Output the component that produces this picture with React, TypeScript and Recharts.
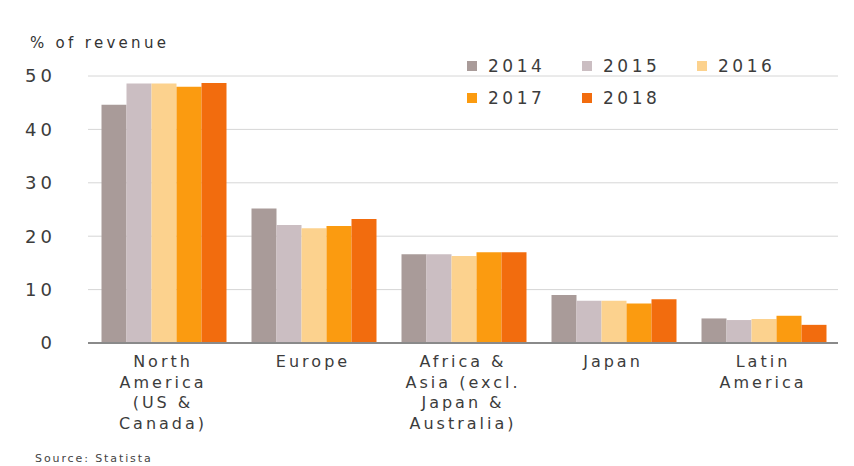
import { BarChart, Bar, XAxis, YAxis, CartesianGrid, Legend } from "recharts";

const regions = [
  "North\nAmerica\n(US &\nCanada)",
  "Europe",
  "Africa &\nAsia (excl.\nJapan &\nAustralia)",
  "Japan",
  "Latin\nAmerica",
];
const years = ["2014", "2015", "2016", "2017", "2018"];
const v2014 = [44.6, 25.2, 16.6, 9.0, 4.6];
const v2015 = [48.6, 22.1, 16.6, 7.9, 4.3];
const v2016 = [48.6, 21.5, 16.3, 7.9, 4.5];
const v2017 = [48.0, 21.9, 17.0, 7.4, 5.1];
const v2018 = [48.7, 23.2, 17.0, 8.2, 3.4];
const yTicks = [0, 10, 20, 30, 40, 50];

const colors = ["#a99b99", "#cbbec2", "#fcd28e", "#fb9b10", "#f26c0e"];
const font = "'DejaVu Sans', sans-serif";

const data = regions.map((r, i) => ({
  name: r,
  "2014": v2014[i],
  "2015": v2015[i],
  "2016": v2016[i],
  "2017": v2017[i],
  "2018": v2018[i],
}));

function CatTick(props: any) {
  const { x, y, payload } = props;
  const lines = String(payload.value).split("\n");
  return (
    <g>
      {lines.map((l, i) => (
        <text
          key={i}
          x={x}
          y={y + 16 + i * 20.7}
          textAnchor="middle"
          fill="#3c3c3c"
          fontSize={16}
          letterSpacing={3}
          fontFamily={font}
        >
          {l}
        </text>
      ))}
    </g>
  );
}

function LegendBox() {
  return (
    <div style={{ display: "flex", flexWrap: "wrap", width: 345 }}>
      {years.map((y, i) => (
        <div
          key={y}
          style={{
            width: 115,
            height: 32,
            display: "flex",
            alignItems: "center",
            fontFamily: font,
            fontSize: 17,
            letterSpacing: 3.5,
            color: "#3c3c3c",
          }}
        >
          <span
            style={{
              width: 10,
              height: 10,
              background: colors[i],
              marginRight: 11,
              display: "inline-block",
            }}
          />
          {y}
        </div>
      ))}
    </div>
  );
}

export default function App() {
  return (
    <div style={{ position: "absolute", left: 0, top: 0, width: 854, height: 466, background: "#fff" }}>
      <div
        style={{
          position: "absolute",
          left: 30,
          top: 34,
          fontFamily: font,
          fontSize: 15,
          letterSpacing: 3.3,
          color: "#333",
        }}
      >
        % of revenue
      </div>
      <BarChart
        width={854}
        height={466}
        data={data}
        margin={{ top: 76, right: 16, left: 28, bottom: 0 }}
        barCategoryGap="9%"
        barGap={0}
      >
        <CartesianGrid vertical={false} stroke="#d6d6d6" />
        <XAxis
          dataKey="name"
          tick={<CatTick />}
          tickLine={false}
          axisLine={{ stroke: "#8a8a8a", strokeWidth: 2 }}
          interval={0}
          height={123}
        />
        <YAxis
          width={60}
          domain={[0, 50]}
          ticks={yTicks}
          axisLine={false}
          tickLine={false}
          tickSize={0}
          tickMargin={32}
          tick={{ fill: "#3c3c3c", fontSize: 18, fontFamily: font, letterSpacing: 4 }}
        />
        <Legend
          content={<LegendBox />}
          layout="horizontal"
          align="center"
          verticalAlign="middle"
          wrapperStyle={{ position: "absolute", left: 467, top: 50, width: 345 }}
        />
        {years.map((y, i) => (
          <Bar key={y} dataKey={y} fill={colors[i]} isAnimationActive={false} />
        ))}
      </BarChart>
      <div
        style={{
          position: "absolute",
          left: 35,
          top: 452,
          fontFamily: font,
          fontSize: 11,
          letterSpacing: 1.9,
          color: "#444",
        }}
      >
        Source: Statista
      </div>
    </div>
  );
}
